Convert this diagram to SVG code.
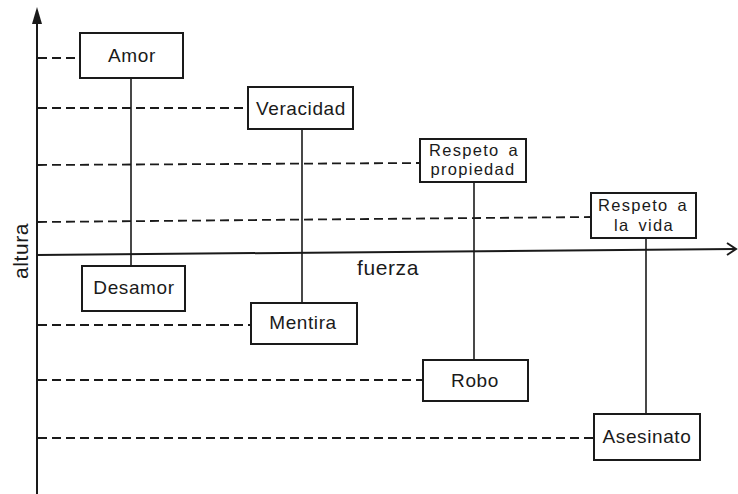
<svg xmlns="http://www.w3.org/2000/svg" width="738" height="494" viewBox="0 0 738 494">
<style>
.box{fill:#fff;stroke:#1a1a1a;stroke-width:2}
.t{font-family:"Liberation Sans",Arial,sans-serif;font-size:19px;fill:#1a1a1a;text-anchor:middle;letter-spacing:0.6px}
.t2{font-size:16.5px;letter-spacing:1.3px}
.ax{stroke:#1a1a1a;stroke-width:2;fill:none}
.v{stroke:#1a1a1a;stroke-width:1.6;fill:none}
.d{stroke:#1a1a1a;stroke-width:1.8;fill:none;stroke-dasharray:9 5}
</style>
<rect width="738" height="494" fill="#fff"/>
<g id="connectors">
<path class="ax" d="M37,494 V18"/>
<path d="M37,7 L32,24 L42,24 Z" fill="#1a1a1a"/>
<path class="ax" d="M37,255 L735,249"/>
<path class="ax" d="M727,243 L736,249 L727,255"/>
<path class="d" d="M38,58 H80"/>
<path class="d" d="M38,108 H248"/>
<path class="d" d="M38,165 L420,163"/>
<path class="d" d="M38,222 L591,217"/>
<path class="d" d="M38,325 H251"/>
<path class="d" d="M38,380 H423"/>
<path class="d" d="M38,438 H594"/>
<path class="v" d="M131,78 V266"/>
<path class="v" d="M302,129 V303"/>
<path class="v" d="M474,182 V360"/>
<path class="v" d="M646,238 V414"/>
</g>
<g id="amor"><rect class="box" x="80" y="33" width="103" height="45"/><text class="t" x="132" y="62">Amor</text></g>
<g id="veracidad"><rect class="box" x="248" y="87" width="105" height="42"/><text class="t" x="301" y="115">Veracidad</text></g>
<g id="respeto-propiedad"><rect class="box" x="420" y="139" width="106" height="43"/><text class="t t2" x="474" y="156" word-spacing="3">Respeto a</text><text class="t t2" x="473" y="175">propiedad</text></g>
<g id="respeto-vida"><rect class="box" x="591" y="193" width="105" height="45"/><text class="t t2" x="643" y="211" word-spacing="3">Respeto a</text><text class="t t2" x="644" y="231" word-spacing="3">la vida</text></g>
<g id="desamor"><rect class="box" x="82" y="266" width="103" height="45"/><text class="t" x="134" y="294">Desamor</text></g>
<g id="mentira"><rect class="box" x="251" y="303" width="106" height="41"/><text class="t" x="303" y="329">Mentira</text></g>
<g id="robo"><rect class="box" x="423" y="360" width="105" height="41"/><text class="t" x="475" y="387">Robo</text></g>
<g id="asesinato"><rect class="box" x="594" y="414" width="106" height="46"/><text class="t" x="647" y="443">Asesinato</text></g>
<text class="t" x="388" y="275" style="font-size:21px">fuerza</text>
<text class="t" transform="translate(28,251) rotate(-90)" style="font-size:21px">altura</text>
</svg>
